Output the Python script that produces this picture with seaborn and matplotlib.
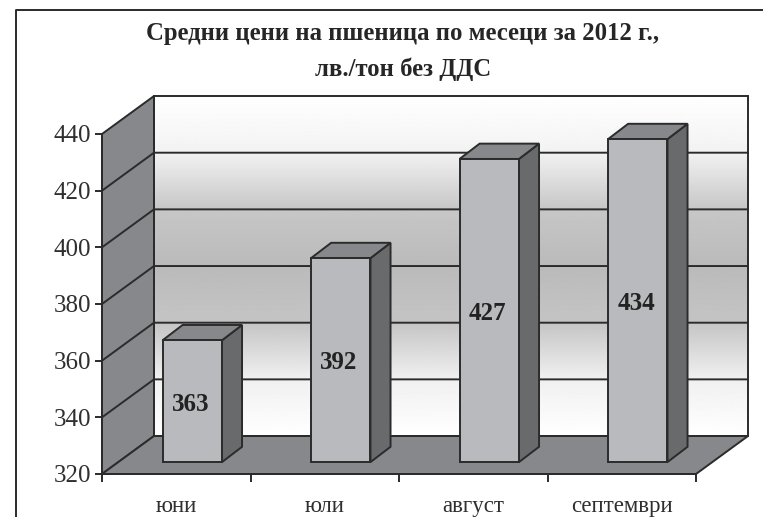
import numpy as np
import pandas as pd
import matplotlib
matplotlib.use('Agg')
import matplotlib.pyplot as plt
from matplotlib.lines import Line2D
from matplotlib.patches import Polygon
import seaborn as sns

months = ['юни', 'юли', 'август', 'септември']
prices = [363, 392, 427, 434]
yticks = [320, 340, 360, 380, 400, 420, 440]
title = 'Средни цени на пшеница по месеци за 2012 г.,\nлв./тон без ДДС'

LINE = '#2b2b2b'
TXT = '#2f2f2f'
WALL = '#87888b'
FACE = '#b9babd'
SIDE = '#696a6c'
LW = 1.4

sns.set_theme(style='white')
plt.rcParams['font.family'] = ['Liberation Serif', 'DejaVu Serif']

fig = plt.figure(figsize=(7.63, 5.17), dpi=100)
ax = fig.add_axes([102 / 763, (517 - 474) / 517, 594 / 763, 340 / 517])
ax.patch.set_visible(False)

df = pd.DataFrame({'month': months, 'price': prices})
sns.barplot(data=df, x='month', y='price', color=FACE, saturation=1, width=0.4,
            edgecolor=LINE, linewidth=LW, ax=ax)

# depth of the fake 3d box, in data units (x categories / y lev)
dx, dy = 0.35, 13.4
ox, oy = 0.108, 4.2     # bars stand part way into the box
sx, sy = 0.135, 5.4     # bar depth
x0, x1, y0, y1 = -0.5, 3.5, yticks[0], yticks[-1]

def poly(pts, color, z):
    ax.add_patch(Polygon(pts, closed=True, facecolor=color, edgecolor=LINE,
                         linewidth=LW, zorder=z, clip_on=False))

# back wall, white - grey - white
rows = np.linspace(0, 1, 340)
grad = np.interp(rows, [0, 1 / 6, 2 / 6, 3 / 6, 4 / 6, 5 / 6, 1],
                 [1, .95, .78, .73, .77, .94, 1]).reshape(-1, 1)
ax.imshow(grad, extent=[x0 + dx, x1 + dx, y0 + dy, y1 + dy], aspect='auto', cmap='gray',
          vmin=0, vmax=1, zorder=0.5, clip_on=False)
poly([(x0 + dx, y0 + dy), (x1 + dx, y0 + dy), (x1 + dx, y1 + dy), (x0 + dx, y1 + dy)], 'none', 1)

# left wall and floor
poly([(x0, y0), (x0 + dx, y0 + dy), (x0 + dx, y1 + dy), (x0, y1)], WALL, 1)
poly([(x0, y0), (x1, y0), (x1 + dx, y0 + dy), (x0 + dx, y0 + dy)], WALL, 1)

# grid on the walls
for t in yticks[1:-1]:
    ax.plot([x0, x0 + dx, x1 + dx], [t, t + dy, t + dy], color=LINE, lw=LW, zorder=1.5, clip_on=False)

# bars, moved into the box with side and top faces added
for p, v in zip(ax.patches[:len(prices)], prices):
    left = p.get_x() + ox
    w = p.get_width()
    p.set_x(left)
    p.set_y(y0 + oy)
    p.set_height(v - y0)
    p.set_zorder(3)
    p.set_clip_on(False)
    right = left + w
    top = v + oy
    poly([(right, y0 + oy), (right + sx, y0 + oy + sy), (right + sx, top + sy), (right, top)], SIDE, 2.9)
    poly([(left, top), (right, top), (right + sx, top + sy), (left + sx, top + sy)], WALL, 2.9)
    ax.text(left + w / 2 - 0.012, (y0 + oy + top) / 2 - 1.0, str(v), ha='center', va='center',
            fontsize=18, fontweight='bold', color='#222222', zorder=4)

ax.set_xlim(x0, x1)
ax.set_ylim(y0, y1)
ax.set_xlabel('')
ax.set_ylabel('')
ax.set_yticks(yticks)
ax.set_xticks(np.arange(x0, x1 + 1), labels=[])
ax.set_xticks(range(len(months)), labels=months, minor=True)
ax.tick_params(axis='y', which='major', left=True, length=5, width=LW, color=LINE,
               labelsize=18, labelcolor=TXT, pad=3)
ax.tick_params(axis='x', which='major', bottom=True, length=6, width=LW, color=LINE)
ax.tick_params(axis='x', which='minor', bottom=False, length=0, labelsize=16.5, labelcolor=TXT, pad=16)

sns.despine(ax=ax, top=True, right=True)
for s in ['left', 'bottom']:
    ax.spines[s].set_color(LINE)
    ax.spines[s].set_linewidth(LW)
    ax.spines[s].set_zorder(2)

fig.text(403 / 763, 1 - 51.5 / 517, title, ha='center', va='center', fontsize=17.8,
         fontweight='bold', color='#262626', linespacing=1.69)

# page frame, only left and top
fig.add_artist(Line2D([16 / 763, 16 / 763, 1], [0, 1 - 10 / 517, 1 - 10 / 517], color=LINE, lw=LW))

fig.savefig('out.png', dpi=100)
